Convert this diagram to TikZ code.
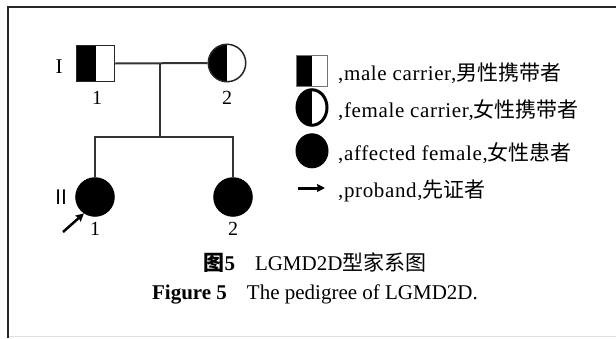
\documentclass[tikz,border=0pt]{standalone}
\usepackage{fontspec}
\setmainfont{Liberation Serif}
\newfontfamily\cjk{Noto Sans CJK SC}
\newfontfamily\legf{Liberation Serif}[LetterSpace=3]
\usetikzlibrary{arrows.meta,shapes.geometric}
\begin{document}
\begin{tikzpicture}[x=1pt,y=-1pt,
  ln/.style={line width=2pt, draw=black!80},
  lbl/.style={font=\fontsize{20}{20}\selectfont, inner sep=0pt, anchor=base},
  leg/.style={anchor=base west, inner sep=0pt, font=\fontsize{21}{21}\selectfont\legf},
  captext/.style={anchor=base, inner sep=0pt, font=\fontsize{21}{21}\selectfont},
  halfL/.style={path picture={\fill[black] (path picture bounding box.south west) rectangle (path picture bounding box.north);}},
  arr/.style={-{Stealth[length=8pt,width=8pt,inset=1pt]}, black}
]
\useasboundingbox (0,0) rectangle (616,338);
\fill[white] (0,0) rectangle (616,338);
% frame
\draw[line width=2pt, black!85] (616,7) -- (8,7) -- (8,338);
\draw[line width=1.5pt, black!12] (9,336.5) -- (616,336.5);

% generation I
\node[rectangle, draw=black!85, line width=1.5pt, minimum width=38pt, minimum height=36pt, inner sep=0pt, halfL] (f) at (95.5,63.5) {};
\node[circle, draw=black!85, line width=1.5pt, minimum size=37.5pt, inner sep=0pt, halfL] (m) at (227,63) {};
% generation II
\node[circle, fill=black, draw=black, line width=1pt, minimum size=38.5pt, inner sep=0pt] (c1) at (95,197) {};
\node[circle, fill=black, draw=black, line width=1pt, minimum size=38.5pt, inner sep=0pt] (c2) at (233,197) {};

% lines
\coordinate (mid) at (160,63);
\coordinate (sib) at (160,137);
\coordinate (sl) at (95,137);
\coordinate (sr) at (233,137);
\draw[ln] (f.east) -- (m.west);
\draw[ln] (mid) -- (sib);
\draw[ln, line cap=rect] (sl) -- (sr);
\draw[ln] (sl) -- (c1.north);
\draw[ln] (sr) -- (c2.north);

% labels
\node[lbl, font=\fontsize{21}{21}\selectfont] (gI) at (59,73) {I};
\node[lbl, font=\fontsize{20}{20}\selectfont\cjk] (gII) at (61.5,204) {Ⅱ};
\node[lbl] (n11) at (97,104) {1};
\node[lbl] (n12) at (227,104) {2};
\node[lbl] (n21) at (95,235) {1};
\node[lbl] (n22) at (233,235) {2};

% proband arrow
\coordinate (pa) at (63,232);
\draw[arr, line width=2.5pt] (pa) -- (c1.236);

% legend symbols
\node[rectangle, draw=black!55, line width=1.2pt, minimum width=31pt, minimum height=31pt, inner sep=0pt, halfL] (k1) at (312,71) {};
\node[ellipse, draw=black, line width=3pt, minimum width=30pt, minimum height=35.5pt, inner sep=0pt, halfL] (k2) at (312,107.5) {};
\node[ellipse, fill=black, draw=black, line width=1pt, minimum width=32pt, minimum height=34pt, inner sep=0pt] (k3) at (312,150.8) {};
\coordinate (ka) at (298,188);
\coordinate (kb) at (325,188);
\draw[arr, line width=3pt] (ka) -- (kb);

% legend texts
\node[leg] (t1) at (338,80) {,male carrier,{\cjk 男性携带者}};
\node[leg] (t2) at (338,117) {,female carrier,{\cjk 女性携带者}};
\node[leg] (t3) at (338,160) {,affected female,{\cjk 女性患者}};
\node[leg] (t4) at (338,197) {,proband,{\cjk 先证者}};

% caption
\node[captext] (cap1) at (315,270) {{\cjk\bfseries 图}\textbf{5}\hspace{20pt}LGMD2D{\cjk 型家系图}};
\node[captext] (cap2) at (315,299) {\textbf{Figure 5}\hspace{20pt}The pedigree of LGMD2D.};
\end{tikzpicture}
\end{document}
